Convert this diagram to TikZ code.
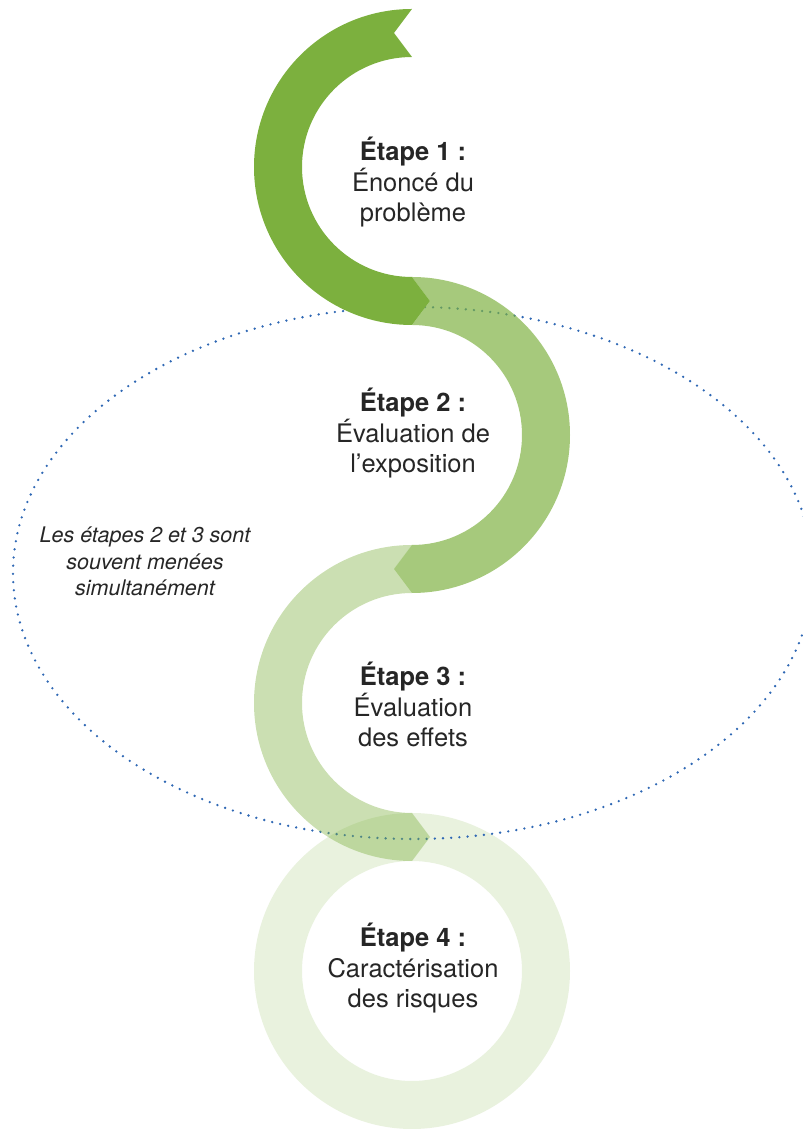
\documentclass[tikz,border=0pt]{standalone}
\usepackage{fontspec}
\setmainfont{TeX Gyre Heros}
\definecolor{leaf}{HTML}{7CB03E}
\definecolor{ink}{HTML}{262626}
\definecolor{dotblue}{HTML}{2F68B4}
\begin{document}
\begin{tikzpicture}[x=1pt,y=1pt,
  band/.style={fill=leaf, draw=none},
  steplabel/.style={align=center, text=ink, inner sep=0pt, anchor=base,
    font=\fontsize{25.5}{30.5}\selectfont},
  notelabel/.style={align=center, text=ink, inner sep=0pt, anchor=base,
    font=\fontsize{21.5}{26.5}\selectfont\itshape},
  dots/.style={dotblue, line width=2.6pt, line cap=round,
    dash pattern=on 0pt off 8.2pt}
]
\useasboundingbox (0,0) rectangle (803,1133);
\clip (0,0) rectangle (803,1133);

% Step 4: closed ring
\fill[band, opacity=0.17, even odd rule]
  (412,162) circle[radius=158pt] (412,162) circle[radius=110pt];

% Dotted ellipse grouping steps 2 and 3
\draw[dots] (413,560) ellipse[x radius=400pt, y radius=266pt];

% Step 3: left half-ring, notched top, pointed bottom
\fill[band, opacity=0.40]
  (412,588) arc[start angle=90, end angle=270, radius=158pt]
  -- (430,296) -- (412,320)
  arc[start angle=270, end angle=90, radius=110pt]
  -- (394,564) -- cycle;

% Step 2: right half-ring, notched top, pointed bottom
\fill[band, opacity=0.68]
  (412,856) -- (430,832) -- (412,808)
  arc[start angle=90, end angle=-90, radius=110pt]
  -- (394,564) -- (412,540)
  arc[start angle=-90, end angle=90, radius=158pt] -- cycle;

% Step 1: left half-ring, notched top, pointed bottom
\fill[band]
  (412,1124) arc[start angle=90, end angle=270, radius=158pt]
  -- (430,832) -- (412,856)
  arc[start angle=270, end angle=90, radius=110pt]
  -- (394,1100) -- cycle;

% Labels (anchored at the baseline of their last line)
\node[steplabel] (s1) at (413,911) {\textbf{Étape 1 :}\\Énoncé du\\problème};
\node[steplabel] (s2) at (413,660) {\textbf{Étape 2 :}\\Évaluation de\\l’exposition};
\node[steplabel] (s3) at (413,386) {\textbf{Étape 3 :}\\Évaluation\\des effets};
\node[steplabel] (s4) at (413,125) {\textbf{Étape 4 :}\\Caractérisation\\des risques};
\node[notelabel] (note) at (145,537) {Les étapes 2 et 3 sont\\souvent menées\\simultanément};
\end{tikzpicture}
\end{document}
